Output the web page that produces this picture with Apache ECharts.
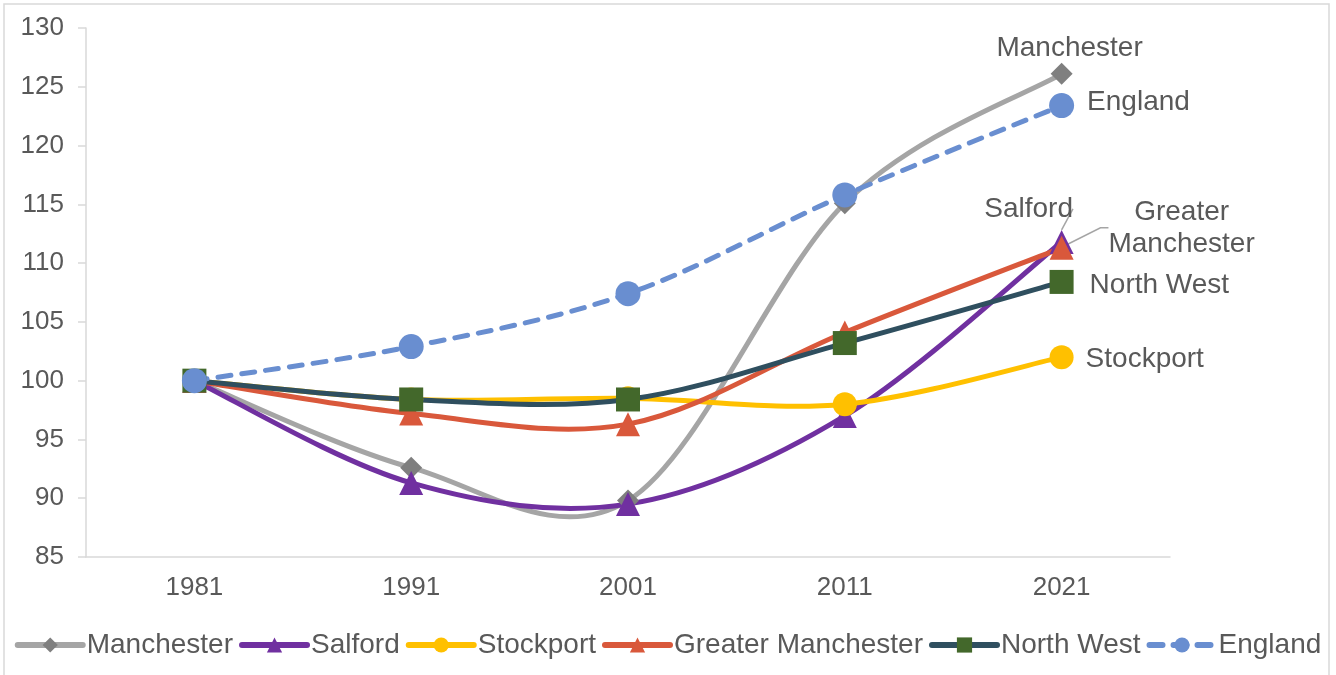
<!DOCTYPE html>
<html>
<head>
<meta charset="utf-8">
<script src="https://cdn.jsdelivr.net/npm/echarts@6/dist/echarts.min.js"></script>
<style>
html,body{margin:0;padding:0;background:#fff;}
#chart{width:1336px;height:675px;}
</style>
</head>
<body>
<div id="chart"></div>
<script>
var years = ['1981', '1991', '2001', '2011', '2021'];
var manchester = [100, 92.6, 89.8, 115.1, 126.1];
var salford = [100, 91.3, 89.5, 97.0, 111.8];
var stockport = [100, 98.4, 98.5, 98.0, 102.0];
var greaterManchester = [100, 97.2, 96.3, 104.1, 111.3];
var northWest = [100, 98.4, 98.4, 103.2, 108.4];
var england = [100, 102.9, 107.4, 115.8, 123.4];
var yTicks = {min: 85, max: 130, interval: 5};

var textColor = '#595959';
var font = 'Liberation Sans, Arial, sans-serif';
var numFs = 26;
var txtFs = 28;

function withEndLabel(values, label) {
  return values.map(function (v, i) {
    if (i === values.length - 1) {
      return {value: v, label: Object.assign({show: true, formatter: '{a}', color: textColor, fontSize: txtFs, fontFamily: font}, label)};
    }
    return v;
  });
}

// smoothed curve (Excel-style cardinal spline) drawn through the axis scales
function curveSeries(name, values, color, dash) {
  return {
    name: name + ' curve',
    type: 'custom',
    silent: true,
    animation: false,
    data: values.map(function (v, i) { return [i, v]; }),
    encode: {x: 0, y: 1},
    renderItem: function (params, api) {
      if (params.dataIndex !== 0) return null;
      var p = values.map(function (v, i) { return api.coord([i, v]); });
      var n = p.length;
      var d = 'M' + p[0][0] + ',' + p[0][1];
      for (var i = 0; i < n - 1; i++) {
        var p0 = p[Math.max(i - 1, 0)], p1 = p[i], p2 = p[i + 1], p3 = p[Math.min(i + 2, n - 1)];
        var c1x = p1[0] + (p2[0] - p0[0]) / 6, c1y = p1[1] + (p2[1] - p0[1]) / 6;
        var c2x = p2[0] - (p3[0] - p1[0]) / 6, c2y = p2[1] - (p3[1] - p1[1]) / 6;
        d += 'C' + c1x + ',' + c1y + ',' + c2x + ',' + c2y + ',' + p2[0] + ',' + p2[1];
      }
      return {
        type: 'path',
        shape: {pathData: d},
        style: {fill: null, stroke: color, lineWidth: 5, lineDash: dash || null, lineCap: dash ? 'round' : 'butt', lineJoin: 'round'}
      };
    }
  };
}

function mkSeries(name, values, lineColor, symColor, symbol, symSize, endLabel, extra) {
  var s = {
    name: name,
    type: 'line',
    data: withEndLabel(values, endLabel),
    symbol: symbol,
    symbolSize: symSize,
    showAllSymbol: true,
    lineStyle: {color: lineColor, width: 5, opacity: 0},
    itemStyle: {color: symColor, borderWidth: 0},
    emphasis: {disabled: true},
    animation: false
  };
  return Object.assign(s, extra || {});
}

var chart = echarts.init(document.getElementById('chart'), null, {renderer: 'canvas'});
chart.setOption({
  backgroundColor: '#fff',
  animation: false,
  graphic: [{
    type: 'rect',
    shape: {x: 4, y: 4, width: 1325, height: 690},
    style: {fill: 'none', stroke: '#d9d9d9', lineWidth: 1.5},
    silent: true,
    z: -10
  }],
  grid: {left: 86, right: 166, top: 28, bottom: 118, containLabel: false},
  legend: {
    bottom: 11,
    left: 'center',
    itemWidth: 65,
    itemHeight: 19,
    itemGap: 6,
    lineStyle: {width: 6, opacity: 1, cap: 'round'},
    textStyle: {color: textColor, fontSize: txtFs, fontFamily: font, padding: [0, 0, 0, -1]},
    data: ['Manchester', 'Salford', 'Stockport', 'Greater Manchester', 'North West', 'England']
  },
  xAxis: {
    type: 'category',
    data: years,
    boundaryGap: true,
    axisLine: {show: true, lineStyle: {color: '#d9d9d9', width: 1.5}},
    axisTick: {show: false},
    axisLabel: {color: textColor, fontSize: numFs, fontFamily: font, margin: 18},
    splitLine: {show: false}
  },
  yAxis: {
    type: 'value',
    min: yTicks.min,
    max: yTicks.max,
    interval: yTicks.interval,
    axisLine: {show: true, lineStyle: {color: '#d9d9d9', width: 1.5}},
    axisTick: {show: true, inside: false, length: 8, lineStyle: {color: '#d9d9d9', width: 1.5}},
    axisLabel: {color: textColor, fontSize: numFs, fontFamily: font, margin: 22},
    splitLine: {show: false}
  },
  series: [
    curveSeries('Manchester', manchester, '#A5A5A5'),
    mkSeries('Manchester', manchester, '#A5A5A5', '#7F7F7F', 'diamond', 22,
      {position: 'top', offset: [8, 3], distance: 4}),
    curveSeries('Salford', salford, '#7030A0'),
    mkSeries('Salford', salford, '#7030A0', '#7030A0', 'triangle', 24,
      {position: 'top', distance: 4},
      {labelLayout: {dx: -33, dy: -3}, labelLine: {show: true, length2: 0, lineStyle: {color: '#A5A5A5', width: 1.5}}}),
    curveSeries('Stockport', stockport, '#FFC000'),
    mkSeries('Stockport', stockport, '#FFC000', '#FFC000', 'circle', 24,
      {position: 'right', distance: 12, offset: [0, 2]}),
    curveSeries('Greater Manchester', greaterManchester, '#D9583B'),
    mkSeries('Greater Manchester', greaterManchester, '#D9583B', '#D9583B', 'triangle', 24,
      {position: 'right', distance: 5, formatter: 'Greater\nManchester', align: 'center', lineHeight: 32},
      {labelLayout: {dx: 103, dy: -20}, labelLine: {show: true, length2: 8, lineStyle: {color: '#A5A5A5', width: 1.5}}}),
    curveSeries('North West', northWest, '#2F4F5F'),
    mkSeries('North West', northWest, '#2F4F5F', '#43682B', 'rect', 24,
      {position: 'right', distance: 16, offset: [0, 3]}),
    curveSeries('England', england, '#698ED0', [13, 11]),
    mkSeries('England', england, '#698ED0', '#698ED0', 'circle', 25,
      {position: 'right', distance: 13, offset: [0, -3]},
      {lineStyle: {color: '#698ED0', width: 5, type: [13, 11], cap: 'round', opacity: 0}})
  ]
});
</script>
</body>
</html>
